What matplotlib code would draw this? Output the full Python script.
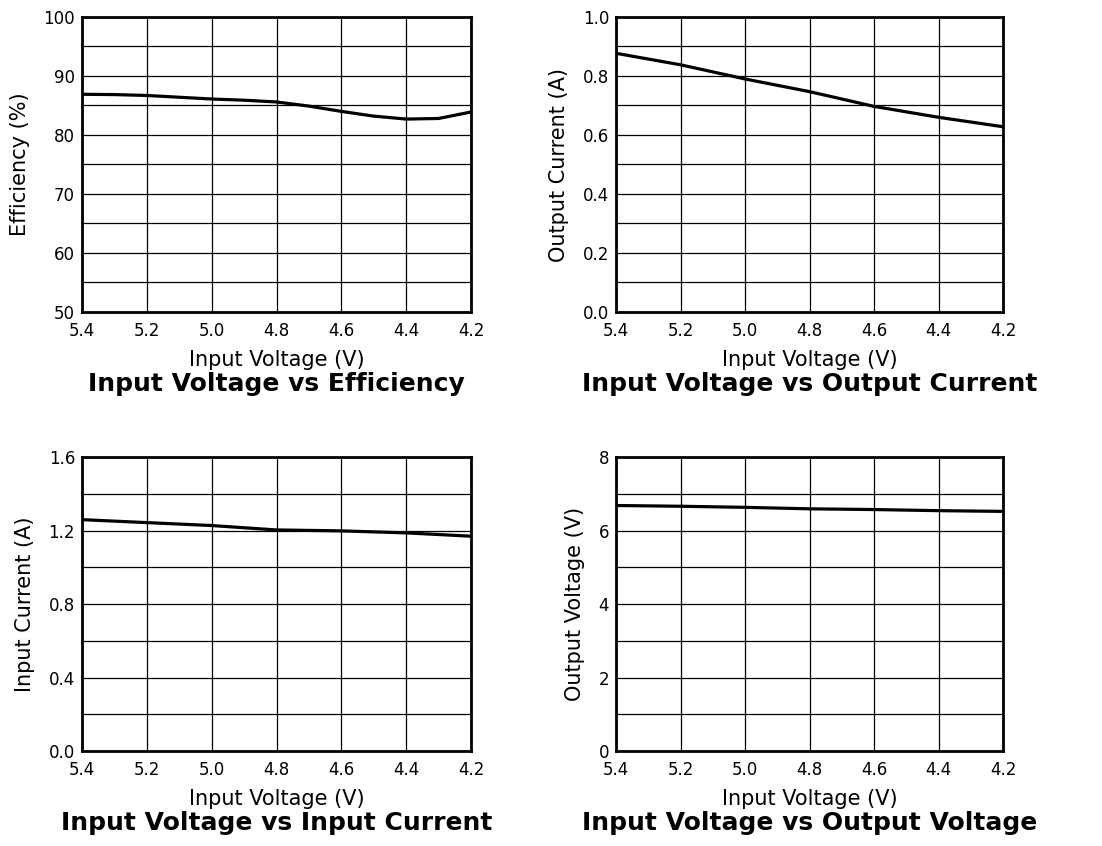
import matplotlib
matplotlib.use("Agg")
import matplotlib.pyplot as plt
from matplotlib.ticker import MultipleLocator, FormatStrFormatter

plt.rcParams['font.family'] = ['DejaVu Sans']

input_voltage = [5.4, 5.3, 5.2, 5.1, 5.0, 4.9, 4.8, 4.7, 4.6, 4.5, 4.4, 4.3, 4.2]
efficiency = [86.9, 86.85, 86.7, 86.4, 86.1, 85.9, 85.6, 84.9, 84.0, 83.2, 82.7, 82.8, 83.9]

vin_oc = [5.4, 5.2, 5.0, 4.8, 4.6, 4.4, 4.2]
output_current = [0.877, 0.838, 0.790, 0.747, 0.697, 0.660, 0.628]
input_current = [1.259, 1.243, 1.227, 1.203, 1.198, 1.187, 1.169]
output_voltage = [6.68, 6.66, 6.63, 6.59, 6.57, 6.54, 6.52]

panels = [
    dict(x=input_voltage, y=efficiency, ylabel="Efficiency (%)", ylim=(50, 100),
         major=10, minor=5, fmt="%d", title="Input Voltage vs Efficiency"),
    dict(x=vin_oc, y=output_current, ylabel="Output Current (A)", ylim=(0, 1.0),
         major=0.2, minor=0.1, fmt="%.1f", title="Input Voltage vs Output Current"),
    dict(x=vin_oc, y=input_current, ylabel="Input Current (A)", ylim=(0, 1.6),
         major=0.4, minor=0.2, fmt="%.1f", title="Input Voltage vs Input Current"),
    dict(x=vin_oc, y=output_voltage, ylabel="Output Voltage (V)", ylim=(0, 8),
         major=2, minor=1, fmt="%d", title="Input Voltage vs Output Voltage"),
]

fig = plt.figure(figsize=(11.02, 8.46), dpi=100)
W, H = 1102, 846
boxes = [(82, 17, 471, 312), (616, 17, 1003, 312), (82, 457, 471, 751), (616, 457, 1003, 751)]

for p, (x0, y0, x1, y1) in zip(panels, boxes):
    ax = fig.add_axes([x0 / W, 1 - y1 / H, (x1 - x0) / W, (y1 - y0) / H])
    ax.plot(p["x"], p["y"], color="black", linewidth=2.3, solid_capstyle="butt")
    ax.set_xlim(5.4, 4.2)
    ax.set_ylim(*p["ylim"])
    ax.xaxis.set_major_locator(MultipleLocator(0.2))
    ax.xaxis.set_major_formatter(FormatStrFormatter("%.1f"))
    ax.yaxis.set_major_locator(MultipleLocator(p["major"]))
    ax.yaxis.set_minor_locator(MultipleLocator(p["minor"]))
    ax.yaxis.set_major_formatter(FormatStrFormatter(p["fmt"]))
    ax.grid(which="both", color="black", linewidth=0.9)
    ax.tick_params(which="both", length=0, labelsize=12)
    ax.tick_params(axis="x", pad=7)
    ax.tick_params(axis="y", pad=5)
    for s in ax.spines.values():
        s.set_linewidth(2.0)
    ax.set_ylabel(p["ylabel"], fontsize=15, labelpad=10)
    ax.set_xlabel("Input Voltage (V)", fontsize=15)
    hpx = y1 - y0
    ax.xaxis.set_label_coords(0.5, -38 / hpx)
    ax.text(0.5, -72 / hpx, p["title"], transform=ax.transAxes, ha="center", va="center",
            fontsize=18, fontweight="bold")

fig.savefig("out.png", dpi=100)
